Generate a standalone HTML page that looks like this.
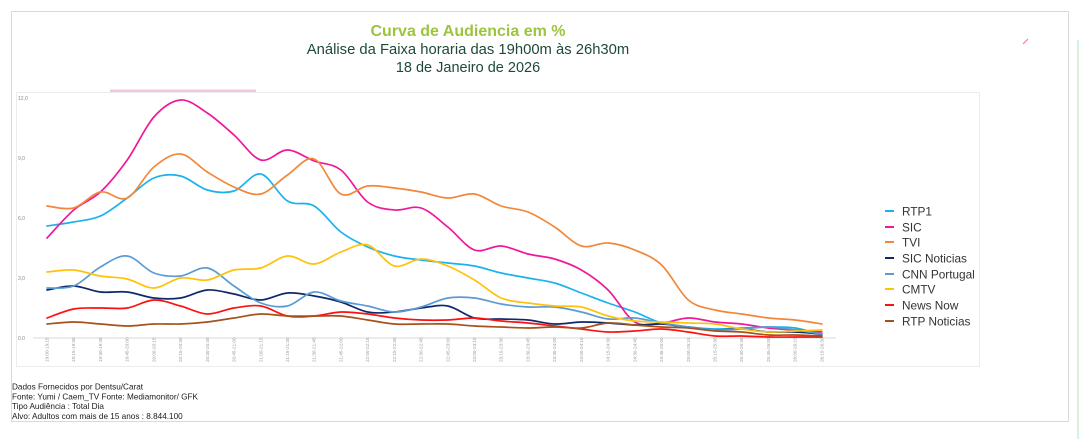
<!DOCTYPE html>
<html><head><meta charset="utf-8">
<style>
html,body{margin:0;padding:0;background:#fff;}
body{width:1079px;height:439px;overflow:hidden;position:relative;font-family:"Liberation Sans",sans-serif;}
svg{position:absolute;left:0;top:0;}
</style></head>
<body>
<svg id="c" width="1079" height="439" viewBox="0 0 1079 439" xmlns="http://www.w3.org/2000/svg">
  <rect x="11.5" y="11.5" width="1057" height="410" fill="#fff" stroke="#d9d9d9" stroke-width="1"/>
  <line x1="1078" y1="40" x2="1078" y2="439" stroke="#bfe8cc" stroke-width="1.2"/>
  <line x1="1023" y1="44" x2="1028" y2="39" stroke="#f07ab8" stroke-width="1.2"/>
  <text x="468" y="36" text-anchor="middle" font-family="Liberation Sans, sans-serif" font-weight="bold" font-size="16" fill="#9cc43c">Curva de Audiencia em %</text>
  <text x="468" y="54" text-anchor="middle" font-family="Liberation Sans, sans-serif" font-size="14.8" fill="#1d4a36">Análise da Faixa horaria das 19h00m às 26h30m</text>
  <text x="468" y="72" text-anchor="middle" font-family="Liberation Sans, sans-serif" font-size="14.5" fill="#1d4a36">18 de Janeiro de 2026</text>
  <rect x="16.5" y="92.5" width="963" height="274" fill="#fff" stroke="#ececec" stroke-width="1"/>
  <rect x="110" y="89.5" width="146" height="2.5" fill="#f2c6e0"/>
  <g font-family="Liberation Sans, sans-serif" font-size="5" fill="#888">
    <text x="18" y="100">12,0</text>
    <text x="18" y="160">9,0</text>
    <text x="18" y="220">6,0</text>
    <text x="18" y="280">3,0</text>
    <text x="18" y="340">0,0</text>
  </g>
  <line x1="33" y1="338" x2="836" y2="338" stroke="#d9d9d9" stroke-width="1"/>
  <g id="xl" font-family="Liberation Sans, sans-serif" font-size="4.6" fill="#999"></g>
  <g id="series" fill="none" stroke-width="1.7" stroke-linejoin="round" stroke-linecap="round"></g>
  <g font-family="Liberation Sans, sans-serif" font-size="11.8" fill="#333">
    <line x1="885" y1="211" x2="894" y2="211" stroke="#1ab2ee" stroke-width="2"/><text x="902" y="215.5">RTP1</text>
    <line x1="885" y1="227" x2="894" y2="227" stroke="#f0189a" stroke-width="2"/><text x="902" y="231.5">SIC</text>
    <line x1="885" y1="242" x2="894" y2="242" stroke="#f2873a" stroke-width="2"/><text x="902" y="246.5">TVI</text>
    <line x1="885" y1="258" x2="894" y2="258" stroke="#10296a" stroke-width="2"/><text x="902" y="262.5">SIC Noticias</text>
    <line x1="885" y1="274" x2="894" y2="274" stroke="#5b9bd5" stroke-width="2"/><text x="902" y="278.5">CNN Portugal</text>
    <line x1="885" y1="289" x2="894" y2="289" stroke="#ffc20a" stroke-width="2"/><text x="902" y="293.5">CMTV</text>
    <line x1="885" y1="305" x2="894" y2="305" stroke="#ff1010" stroke-width="2"/><text x="902" y="309.5">News Now</text>
    <line x1="885" y1="321" x2="894" y2="321" stroke="#a4521c" stroke-width="2"/><text x="902" y="325.5">RTP Noticias</text>
  </g>
  <g font-family="Liberation Sans, sans-serif" font-size="8.2" fill="#1a1a1a">
    <text x="12" y="389.5">Dados Fornecidos por Dentsu/Carat</text>
    <text x="12" y="399.3">Fonte: Yumi / Caem_TV Fonte: Mediamonitor/ GFK</text>
    <text x="12" y="409.1">Tipo Audiência : Total Dia</text>
    <text x="12" y="418.9">Alvo: Adultos com mais de 15 anos : 8.844.100</text>
  </g>
</svg>
<script>
(function(){
var NS="http://www.w3.org/2000/svg";
function X(i){return 47+26.72*i;}
var data=[
["#1ab2ee",[226,222,216,198,178,176,190,191,174,201,206,232,247,256,260,263,266,273,278,283,293,303,312,323,327,329,328,327,328,335]],
["#f0189a",[238,210,192,160,117,100,113,135,160,150,161,170,202,210,208,227,250,246,254,259,270,290,322,323,318,322,324,328,330,332]],
["#f2873a",[206,208,192,198,167,154,172,187,194,175,159,194,186,188,192,198,194,206,212,227,246,243,250,265,300,310,314,318,320,324]],
["#10296a",[290,286,292,292,298,298,290,294,300,293,296,302,312,312,308,306,318,319,320,324,322,323,325,324,327,330,329,332,332,334]],
["#5b9bd5",[288,286,267,256,273,276,268,286,303,306,292,301,306,312,307,298,298,304,307,307,312,319,318,323,327,330,329,327,330,334]],
["#ffc20a",[272,270,276,279,288,278,280,270,268,256,264,252,245,266,259,266,280,298,303,306,307,316,321,322,323,324,329,332,331,330]],
["#ff1010",[318,309,308,308,300,306,314,308,306,316,316,312,314,318,320,320,318,321,323,326,329,332,331,329,332,336,336,337,337,337]],
["#a4521c",[324,322,324,326,324,324,322,318,314,316,316,316,320,324,324,324,326,327,328,327,328,323,325,327,328,331,332,335,335,336]]
];
var g=document.getElementById("series");
data.forEach(function(s){
  var ys=s[1],n=ys.length,pts=[];
  for(var i=0;i<n;i++)pts.push([X(i),ys[i]]);
  var d="M"+pts[0][0].toFixed(1)+","+pts[0][1];
  for(var i=0;i<n-1;i++){
    var p0=pts[i>0?i-1:0],p1=pts[i],p2=pts[i+1],p3=pts[i+2<n?i+2:n-1];
    var c1x=p1[0]+(p2[0]-p0[0])/6,c1y=p1[1]+(p2[1]-p0[1])/6;
    var c2x=p2[0]-(p3[0]-p1[0])/6,c2y=p2[1]-(p3[1]-p1[1])/6;
    d+=" C"+c1x.toFixed(1)+","+c1y.toFixed(1)+" "+c2x.toFixed(1)+","+c2y.toFixed(1)+" "+p2[0].toFixed(1)+","+p2[1];
  }
  var p=document.createElementNS(NS,"path");
  p.setAttribute("d",d);p.setAttribute("stroke",s[0]);
  g.appendChild(p);
});
var xl=document.getElementById("xl");
function pad(v){return (v<10?"0":"")+v;}
for(var i=0;i<30;i++){
  var m0=19*60+15*i,m1=m0+15;
  var t=pad(Math.floor(m0/60))+":"+pad(m0%60)+"-"+pad(Math.floor(m1/60))+":"+pad(m1%60);
  var x=X(i)+1.5,y=362;
  var e=document.createElementNS(NS,"text");
  e.setAttribute("x",x);e.setAttribute("y",y);
  e.setAttribute("transform","rotate(-90 "+x+" "+y+")");
  e.textContent=t;xl.appendChild(e);
}
})();
</script>
</body></html>
